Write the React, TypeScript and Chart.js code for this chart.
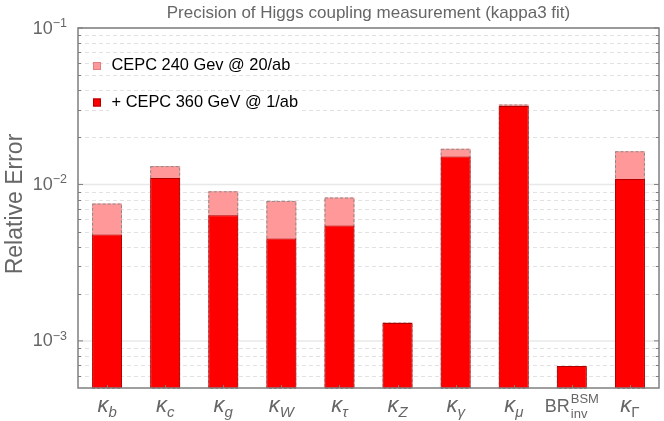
import React, { useEffect, useRef } from 'react';
import { Chart, registerables } from 'chart.js';

Chart.register(...registerables);

// ---- data ----
const labelMain = ['κ', 'κ', 'κ', 'κ', 'κ', 'κ', 'κ', 'κ', 'BR', 'κ'];
const labelSub = ['b', 'c', 'g', 'W', 'τ', 'Z', 'γ', 'μ', 'inv', 'Γ'];
const labelSup = ['', '', '', '', '', '', '', '', 'BSM', ''];
const categories = labelMain.map((m, i) => m + labelSub[i] + labelSup[i]);

const cepc240 = [7.55e-3, 1.31e-2, 9.04e-3, 7.85e-3, 8.25e-3, 1.31e-3, 1.69e-2, 3.24e-2, 6.9e-4, 1.63e-2];
const cepc360 = [4.79e-3, 1.10e-2, 6.36e-3, 4.52e-3, 5.47e-3, 1.30e-3, 1.51e-2, 3.17e-2, 6.9e-4, 1.085e-2];

const yMin = 5e-4;
const yMax = 0.1;
const yMajorTicks = [1e-3, 1e-2, 1e-1];
const yMajorExp = ['−3', '−2', '−1'];
const yMinorTicks = [6e-4, 7e-4, 8e-4, 9e-4, 2e-3, 3e-3, 4e-3, 5e-3, 6e-3, 7e-3, 8e-3, 9e-3, 2e-2, 3e-2, 4e-2, 5e-2, 6e-2, 7e-2, 8e-2, 9e-2];

const titleText = 'Precision of Higgs coupling measurement (kappa3 fit)';
const yTitleText = 'Relative Error';
const legendLabels = ['CEPC 240 Gev @ 20/ab', '+ CEPC 360 GeV @ 1/ab'];

// ---- styles ----
const FONT = '"Liberation Sans", Arial, Helvetica, sans-serif';
const PINK = '#ff9999';
const RED = '#ff0000';
const RED_BORDER = '#b00000';
const GRAY_TEXT = '#666666';
const FRAME = '#7f7f7f';

const decor = {
  id: 'decor',
  beforeDatasetsDraw(chart: any) {
    const { ctx, chartArea: a, scales } = chart;
    const y = scales.y;
    ctx.save();
    ctx.lineWidth = 1;
    ctx.strokeStyle = '#e2e2e2';
    ctx.setLineDash([4, 3]);
    yMinorTicks.forEach((v) => {
      const py = Math.round(y.getPixelForValue(v)) + 0.5;
      ctx.beginPath();
      ctx.moveTo(a.left, py);
      ctx.lineTo(a.right, py);
      ctx.stroke();
    });
    ctx.setLineDash([]);
    ctx.strokeStyle = '#e8e8e8';
    ctx.lineWidth = 1.5;
    yMajorTicks.forEach((v) => {
      const py = y.getPixelForValue(v);
      ctx.beginPath();
      ctx.moveTo(a.left, py);
      ctx.lineTo(a.right, py);
      ctx.stroke();
    });
    ctx.restore();
  },
  afterDatasetDraw(chart: any, args: any) {
    if (args.index !== 0) return;
    const { ctx } = chart;
    ctx.save();
    ctx.setLineDash([3, 2]);
    ctx.strokeStyle = '#8a8a8a';
    ctx.lineWidth = 1;
    args.meta.data.forEach((bar: any) => {
      const p = bar.getProps(['x', 'y', 'base', 'width'], true);
      const l = p.x - p.width / 2;
      ctx.strokeRect(l + 0.5, p.y + 0.5, p.width - 1, p.base - p.y);
    });
    ctx.restore();
  },
  afterDraw(chart: any) {
    const { ctx, chartArea: a, scales } = chart;
    const y = scales.y;
    const x = scales.x;
    ctx.save();

    // frame
    ctx.strokeStyle = FRAME;
    ctx.lineWidth = 1.5;
    ctx.strokeRect(a.left, a.top, a.right - a.left, a.bottom - a.top);

    // y ticks (left and right, inward)
    ctx.lineWidth = 1;
    yMajorTicks.forEach((v) => {
      const py = y.getPixelForValue(v);
      ctx.beginPath();
      ctx.moveTo(a.left, py); ctx.lineTo(a.left + 5, py);
      ctx.moveTo(a.right, py); ctx.lineTo(a.right - 5, py);
      ctx.stroke();
    });
    yMinorTicks.forEach((v) => {
      const py = Math.round(y.getPixelForValue(v)) + 0.5;
      ctx.beginPath();
      ctx.moveTo(a.left, py); ctx.lineTo(a.left + 3, py);
      ctx.moveTo(a.right, py); ctx.lineTo(a.right - 3, py);
      ctx.stroke();
    });
    // x ticks
    categories.forEach((_, i) => {
      const px = Math.round(x.getPixelForValue(i)) + 0.5;
      ctx.beginPath();
      ctx.moveTo(px, a.bottom); ctx.lineTo(px, a.bottom - 3);
      ctx.stroke();
    });

    // y tick labels
    ctx.fillStyle = GRAY_TEXT;
    ctx.textBaseline = 'alphabetic';
    yMajorTicks.forEach((v, i) => {
      const py = y.getPixelForValue(v);
      ctx.font = `12.5px ${FONT}`;
      const supW = ctx.measureText(yMajorExp[i]).width;
      ctx.font = `18px ${FONT}`;
      const baseW = ctx.measureText('10').width;
      const right = a.left - 11;
      ctx.textAlign = 'left';
      ctx.fillText('10', right - supW - baseW, py + 5.5);
      ctx.font = `12.5px ${FONT}`;
      ctx.fillText(yMajorExp[i], right - supW, py - 1.3);
    });

    // x labels
    categories.forEach((_, i) => {
      const cx = x.getPixelForValue(i);
      const isK = labelMain[i] === 'κ';
      const mainFont = isK ? `italic 22px ${FONT}` : `18px ${FONT}`;
      const subFont = isK
        ? (labelSub[i] === 'Γ' ? `15px ${FONT}` : `italic 15px ${FONT}`)
        : `13px ${FONT}`;
      const supFont = `13px ${FONT}`;
      ctx.font = mainFont;
      const mw = ctx.measureText(labelMain[i]).width;
      ctx.font = subFont;
      const sw = ctx.measureText(labelSub[i]).width;
      ctx.font = supFont;
      const pw = labelSup[i] ? ctx.measureText(labelSup[i]).width : 0;
      const total = mw + Math.max(sw, pw) + (isK ? 0 : 1);
      const sx = cx - total / 2;
      ctx.textAlign = 'left';
      ctx.font = mainFont;
      ctx.fillText(labelMain[i], sx, 412);
      ctx.font = subFont;
      ctx.fillText(labelSub[i], sx + mw + (isK ? 0 : 1), isK ? 417 : 418);
      if (labelSup[i]) {
        ctx.font = supFont;
        ctx.fillText(labelSup[i], sx + mw + 1, 403);
      }
    });

    // title
    ctx.font = `17px ${FONT}`;
    ctx.textAlign = 'center';
    ctx.fillStyle = GRAY_TEXT;
    ctx.fillText(titleText, (a.left + a.right) / 2, 17.5);

    // y title
    ctx.save();
    ctx.translate(21.5, (a.top + a.bottom) / 2 - 4);
    ctx.rotate(-Math.PI / 2);
    ctx.font = `23px ${FONT}`;
    ctx.textAlign = 'center';
    ctx.fillStyle = GRAY_TEXT;
    ctx.fillText(yTitleText, 0, 0);
    ctx.restore();

    // legend
    const items = [
      { fill: PINK, stroke: '#e08080', base: 70 },
      { fill: RED, stroke: RED_BORDER, base: 106.5 },
    ];
    ctx.font = `16.4px ${FONT}`;
    ctx.textAlign = 'left';
    items.forEach((it, i) => {
      const tw = ctx.measureText(legendLabels[i]).width;
      ctx.fillStyle = '#ffffff';
      ctx.fillRect(109, it.base - 15, tw + 5, 20);
      ctx.fillStyle = it.fill;
      ctx.fillRect(93, it.base - 8, 8, 8);
      ctx.strokeStyle = it.stroke;
      ctx.lineWidth = 1;
      ctx.strokeRect(93.5, it.base - 7.5, 7, 7);
      ctx.fillStyle = '#000000';
      ctx.fillText(legendLabels[i], 111.5, it.base);
    });

    ctx.restore();
  },
};

export default function App() {
  const ref = useRef<HTMLCanvasElement | null>(null);
  useEffect(() => {
    document.body.style.margin = '0';
    const canvas = ref.current;
    if (!canvas) return;
    const chart = new Chart(canvas, {
      type: 'bar',
      data: {
        labels: categories,
        datasets: [
          {
            label: legendLabels[0],
            data: cepc240,
            backgroundColor: PINK,
            borderWidth: 0,
            grouped: false,
            order: 2,
            base: yMin,
            barPercentage: 0.515,
            categoryPercentage: 1,
          } as any,
          {
            label: legendLabels[1],
            data: cepc360,
            backgroundColor: RED,
            borderColor: RED_BORDER,
            borderWidth: 1,
            borderSkipped: 'start',
            grouped: false,
            order: 1,
            base: yMin,
            barPercentage: 0.515,
            categoryPercentage: 1,
          } as any,
        ],
      },
      options: {
        responsive: false,
        animation: false,
        layout: { padding: { left: 78, right: 5, top: 28, bottom: 33 } },
        plugins: {
          legend: { display: false },
          title: { display: false },
          tooltip: { enabled: false },
        },
        scales: {
          x: { type: 'category', display: false, offset: true, grid: { display: false } },
          y: { type: 'logarithmic', display: false, min: yMin, max: yMax },
        },
      },
      plugins: [decor],
    });
    return () => chart.destroy();
  }, []);
  return (
    <div style={{ width: 664, height: 421 }}>
      <canvas ref={ref} width={664} height={421} style={{ display: 'block' }} />
    </div>
  );
}
